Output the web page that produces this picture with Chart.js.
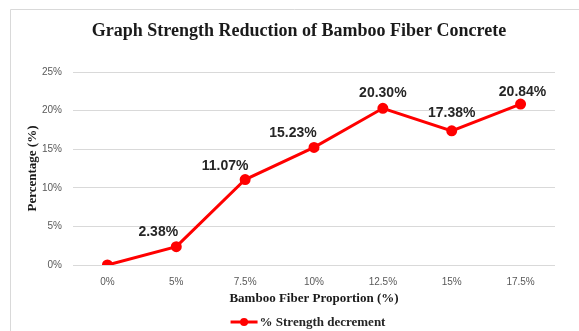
<!DOCTYPE html>
<html>
<head>
<meta charset="utf-8">
<script src="https://cdn.jsdelivr.net/npm/chart.js@4"></script>
<style>
  html, body { margin: 0; padding: 0; background: #fff; }
  #wrap { position: relative; width: 579px; height: 331px; }
</style>
</head>
<body>
<div id="wrap"><canvas id="chart" width="579" height="331"></canvas></div>
<script>
// ---- data ----
const proportions = ["0%", "5%", "7.5%", "10%", "12.5%", "15%", "17.5%"];
const strengthDecrement = [0, 2.38, 11.07, 15.23, 20.30, 17.38, 20.84];
const yTicks = [0, 5, 10, 15, 20, 25];
const chartTitle = "Graph Strength Reduction of Bamboo Fiber Concrete";

const RED = "#ff0000";
const GRID = "#d9d9d9";
const SERIF = "'Liberation Serif', 'Times New Roman', serif";
const SANS = "'Liberation Sans', Arial, sans-serif";

// frame lines of the chart box (top + left edge only visible) and the title
const framePlugin = {
  id: "frame",
  beforeDraw(chart) {
    const c = chart.ctx;
    c.save();
    c.strokeStyle = GRID;
    c.lineWidth = 1;
    c.beginPath();
    c.moveTo(10.5, chart.height);
    c.lineTo(10.5, 9.5);
    c.lineTo(chart.width, 9.5);
    c.stroke();
    // title sits a bit left of the plot centre, like the original
    c.font = "bold 18px " + SERIF;
    c.fillStyle = "#1a1a1a";
    c.textAlign = "center";
    c.textBaseline = "middle";
    c.fillText(chartTitle, 299, 31);
    c.restore();
  }
};

// value labels above points (positions dragged by hand in the original)
const valueLabels = {
  id: "valueLabels",
  afterDatasetsDraw(chart, args, opts) {
    const c = chart.ctx;
    const meta = chart.getDatasetMeta(0);
    const values = chart.data.datasets[0].data;
    c.save();
    c.font = "bold 14px " + SANS;
    c.fillStyle = "#262626";
    c.textAlign = "center";
    c.textBaseline = "middle";
    meta.data.forEach((pt, i) => {
      if (!values[i]) return;
      const off = opts.offsets[i] || [0, -14];
      c.fillText(values[i].toFixed(2) + "%", pt.x + off[0], pt.y + off[1]);
    });
    c.restore();
  }
};

// legend: line with round marker + serif label
const lineLegend = {
  id: "lineLegend",
  afterDraw(chart) {
    const c = chart.ctx;
    const ds = chart.data.datasets[0];
    const cx = (chart.chartArea.left + chart.chartArea.right) / 2 - 6;
    const y = 322;
    c.save();
    c.font = "bold 13px " + SERIF;
    const tw = c.measureText(ds.label).width;
    const total = 27 + 2 + tw;
    const x0 = cx - total / 2;
    c.strokeStyle = ds.borderColor;
    c.lineWidth = 3;
    c.beginPath();
    c.moveTo(x0, y);
    c.lineTo(x0 + 27, y);
    c.stroke();
    c.fillStyle = ds.borderColor;
    c.beginPath();
    c.arc(x0 + 13.5, y, 4, 0, Math.PI * 2);
    c.fill();
    c.fillStyle = "#262626";
    c.textAlign = "left";
    c.textBaseline = "middle";
    c.fillText(ds.label, x0 + 29, y + 1);
    c.restore();
  }
};

new Chart(document.getElementById("chart"), {
  type: "line",
  data: {
    labels: proportions,
    datasets: [{
      label: "% Strength decrement",
      data: strengthDecrement,
      borderColor: RED,
      backgroundColor: RED,
      borderWidth: 3,
      pointRadius: 4,
      pointBackgroundColor: RED,
      pointBorderColor: RED,
      tension: 0
    }]
  },
  options: {
    responsive: false,
    animation: false,
    devicePixelRatio: 1,
    layout: { padding: { left: 15, right: 24, top: 72, bottom: 25 } },
    plugins: {
      legend: { display: false },
      tooltip: { enabled: false },
      title: { display: false },
      valueLabels: {
        offsets: [[0, 0], [-18, -14], [-20, -13], [-21, -14], [0, -15], [0, -18], [2, -12]]
      }
    },
    scales: {
      x: {
        offset: true,
        grid: { display: false },
        border: { display: false },
        ticks: { color: "#595959", font: { family: SANS, size: 10 }, padding: 3 },
        title: {
          display: true,
          text: "Bamboo Fiber Proportion (%)",
          color: "#1a1a1a",
          font: { family: SERIF, size: 13, weight: "bold" },
          padding: { top: 3, bottom: 0 }
        },
        afterFit(scale) { scale.height = 41; }
      },
      y: {
        min: 0,
        max: 25,
        afterBuildTicks(scale) { scale.ticks = yTicks.map(v => ({ value: v })); },
        grid: { color: GRID, lineWidth: 1, drawTicks: false },
        border: { display: false },
        ticks: {
          color: "#595959",
          font: { family: SANS, size: 10 },
          padding: 11,
          callback: v => v + "%"
        },
        title: {
          display: true,
          text: "Percentage (%)",
          color: "#1a1a1a",
          font: { family: SERIF, size: 13, weight: "bold" },
          padding: { top: 10, bottom: 0 }
        },
        afterFit(scale) { scale.width = 58; }
      }
    }
  },
  plugins: [framePlugin, valueLabels, lineLegend]
});
</script>
</body>
</html>
